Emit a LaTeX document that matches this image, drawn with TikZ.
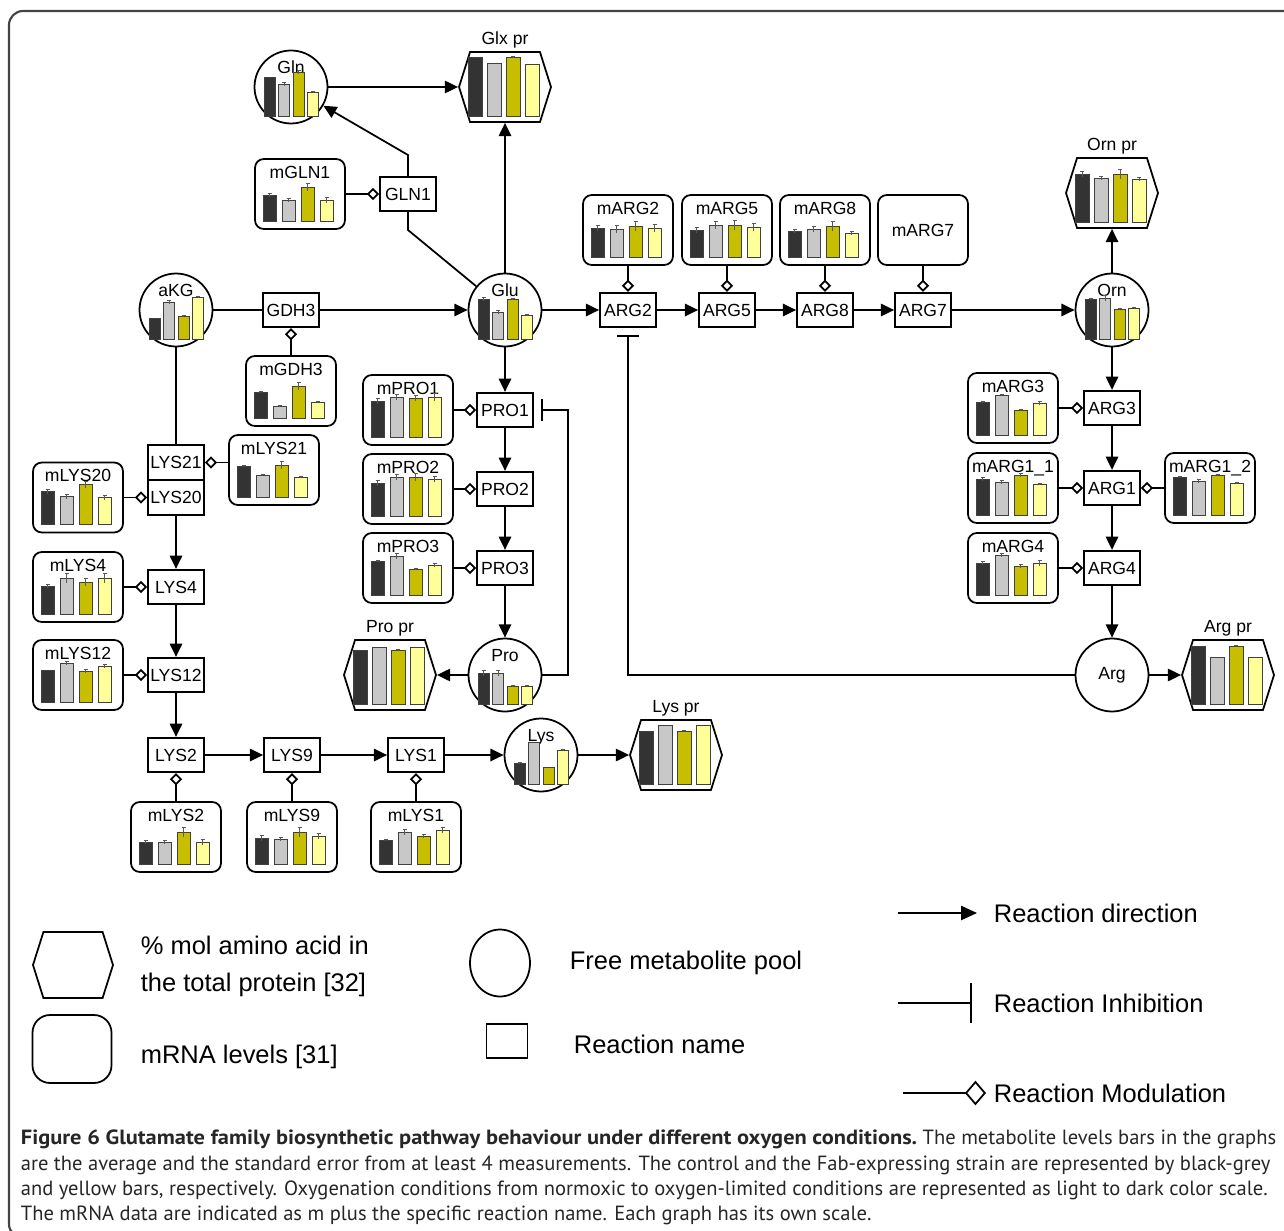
\documentclass[tikz,border=0pt]{standalone}
\usepackage{fontspec}
\setmainfont{Liberation Sans}
\newfontfamily\capfont{PT Sans}
\usetikzlibrary{arrows.meta,shapes.geometric,shapes.symbols}

\definecolor{bar1}{HTML}{333333}
\definecolor{bar2}{HTML}{C8C8C8}
\definecolor{bar3}{HTML}{C8BE00}
\definecolor{bar4}{HTML}{FFFF99}
\definecolor{framegray}{HTML}{444444}

% bar graph inside a node: node, left offset, baseline offset, bar width, pitch, {height/error,...}
\newcommand{\bargraph}[6]{%
  \begin{scope}[shift={(#1)}]
    \foreach \h/\e [count=\i] in {#6}{
      \pgfmathsetmacro{\xl}{#2+(\i-1)*#5}
      \pgfmathsetmacro{\xm}{\xl+#4/2}
      \draw[barline, fill=bar\i] (\xl,#3) rectangle ++(#4,-\h);
      \ifnum\e>0
        \draw[errline] (\xm,{#3-\h-\e}) -- (\xm,{#3-\h+\e})
          (\xm-2,{#3-\h-\e}) -- (\xm+2,{#3-\h-\e});
      \fi
    }
  \end{scope}}
\newcommand{\mbars}[2]{\bargraph{#1}{-37}{27}{13}{19}{#2}}
\newcommand{\cbars}[2]{\bargraph{#1}{-27}{29}{11}{14.5}{#2}}
\newcommand{\hbars}[2]{\bargraph{#1}{-37}{29}{14}{19}{#2}}

\begin{document}
\begin{tikzpicture}[x=0.02cm, y=-0.02cm, line width=1pt,
  reaction/.style={draw, fill=white, minimum width=1.12cm, minimum height=0.69cm, inner sep=1pt, font=\fontsize{10}{12}\selectfont},
  mrna/.style={draw, fill=white, rounded corners=5pt, minimum width=1.8cm, minimum height=1.4cm, font=\fontsize{10}{12}\selectfont},
  met/.style={circle, draw, fill=white, minimum size=1.46cm, inner sep=0pt, font=\fontsize{10}{12}\selectfont},
  prot/.style={signal, signal to=east and west, signal pointer angle=145, draw, fill=white, minimum width=1.84cm, minimum height=1.4cm, inner sep=0pt},
  toplabel/.style={label={[anchor=north, yshift=-3pt, inner sep=1pt, font=\fontsize{10}{12}\selectfont]north:#1}},
  metlabel/.style={label={[anchor=north, yshift=-5pt, inner sep=1pt, font=\fontsize{10}{12}\selectfont]north:#1}},
  prlabel/.style={label={[inner sep=1pt, font=\fontsize{10}{12}\selectfont]above:#1}},
  lgtext/.style={font=\fontsize{14.5}{21}\selectfont, inner sep=0pt},
  flow/.style={-{Triangle[length=7.5pt,width=7pt]}},
  modul/.style={-{Diamond[open,length=7pt,width=7pt]}},
  inhib/.style={-{Bar[width=12pt]}, shorten >=4pt},
  barline/.style={line width=0.5pt, draw=black!75},
  errline/.style={line width=0.5pt, draw=black!65},
]
\useasboundingbox (0,0) rectangle (1284,1230);
\draw[framegray, line width=1.2pt, rounded corners=8pt] (1300,11) -- (9,11) -- (9,1238) -- (1300,1238);

% metabolite pools
\node[met, metlabel=Gln] (gln) at (291,87) {};
\node[met, metlabel=Glu] (glu) at (505,310) {};
\node[met, metlabel=aKG] (akg) at (176,310) {};
\node[met, metlabel=Orn] (orn) at (1112,310) {};
\node[met, metlabel=Pro] (pro) at (505,675) {};
\node[met, metlabel=Lys] (lys) at (541,755) {};
\node[met] (arg) at (1112,675) {Arg};

% amino acid in protein
\node[prot, prlabel={Glx pr}] (glxpr) at (505,87) {};
\node[prot, prlabel={Orn pr}] (ornpr) at (1112,193) {};
\node[prot, prlabel={Arg pr}] (argpr) at (1228,675) {};
\node[prot, prlabel={Pro pr}] (propr) at (390,675) {};
\node[prot, prlabel={Lys pr}] (lyspr) at (676,755) {};

% reactions
\node[reaction] (gln1) at (408,194) {GLN1};
\node[reaction] (gdh3) at (291,310) {GDH3};
\node[reaction] (arg2) at (628,310) {ARG2};
\node[reaction] (arg5) at (727,310) {ARG5};
\node[reaction] (arg8) at (825,310) {ARG8};
\node[reaction] (arg7) at (923,310) {ARG7};
\node[reaction] (pro1) at (505,410) {PRO1};
\node[reaction] (pro2) at (505,489) {PRO2};
\node[reaction] (pro3) at (505,568) {PRO3};
\node[reaction] (arg3) at (1112,408) {ARG3};
\node[reaction] (arg1) at (1112,488) {ARG1};
\node[reaction] (arg4) at (1112,568) {ARG4};
\node[reaction] (lys21) at (176,462.5) {LYS21};
\node[reaction] (lys20) at (176,497.5) {LYS20};
\node[reaction] (lys4) at (176,587) {LYS4};
\node[reaction] (lys12) at (176,675) {LYS12};
\node[reaction] (lys2) at (176,755) {LYS2};
\node[reaction] (lys9) at (292,755) {LYS9};
\node[reaction] (lys1) at (416,755) {LYS1};

% mRNA levels
\node[mrna, toplabel=mGLN1] (mgln1) at (300,194) {};
\node[mrna, toplabel=mGDH3] (mgdh3) at (291,391) {};
\node[mrna, toplabel=mPRO1] (mpro1) at (408,410) {};
\node[mrna, toplabel=mPRO2] (mpro2) at (408,489) {};
\node[mrna, toplabel=mPRO3] (mpro3) at (408,568) {};
\node[mrna, toplabel=mLYS21] (mlys21) at (274,470) {};
\node[mrna, toplabel=mLYS20] (mlys20) at (78,497.5) {};
\node[mrna, toplabel=mLYS4] (mlys4) at (78,587) {};
\node[mrna, toplabel=mLYS12] (mlys12) at (78,675) {};
\node[mrna, toplabel=mLYS2] (mlys2) at (176,837) {};
\node[mrna, toplabel=mLYS9] (mlys9) at (292,837) {};
\node[mrna, toplabel=mLYS1] (mlys1) at (416,837) {};
\node[mrna, toplabel=mARG2] (marg2) at (628,230) {};
\node[mrna, toplabel=mARG5] (marg5) at (727,230) {};
\node[mrna, toplabel=mARG8] (marg8) at (825,230) {};
\node[mrna] (marg7) at (923,230) {mARG7};
\node[mrna, toplabel=mARG3] (marg3) at (1013,408) {};
\node[mrna, toplabel=mARG1\_1] (marg11) at (1013,488) {};
\node[mrna, toplabel=mARG1\_2] (marg12) at (1210,488) {};
\node[mrna, toplabel=mARG4] (marg4) at (1013,568) {};

% bars
\cbars{gln}{39/0,32/2,44/2,24/1}
\cbars{glu}{40/2,27/2,40/1,24/1}
\cbars{akg}{21/0,37/2,23/1,42/1}
\cbars{orn}{40/1,41/3,30/1,31/1}
\cbars{pro}{31/3,31/3,18/1,18/1}
\cbars{lys}{21/1,42/0,17/0,34/1}
\hbars{glxpr}{59/0,53/0,59/1,52/0}
\hbars{ornpr}{48/3,44/2,48/5,43/2}
\hbars{argpr}{58/0,47/0,58/1,47/0}
\hbars{propr}{54/0,57/0,54/1,57/0}
\hbars{lyspr}{53/0,59/0,53/1,59/0}
\mbars{mgln1}{26/2,21/2,34/4,21/3}
\mbars{mgdh3}{26/1,12/1,32/4,16/1}
\mbars{mpro1}{36/3,40/3,39/3,40/4}
\mbars{mpro2}{33/3,39/3,39/4,37/3}
\mbars{mpro3}{34/1,39/3,26/1,30/2}
\mbars{mlys21}{31/1,22/1,32/4,20/1}
\mbars{mlys20}{33/2,28/2,40/3,27/2}
\mbars{mlys4}{28/2,36/5,32/4,36/5}
\mbars{mlys12}{32/0,39/2,31/2,36/2}
\mbars{mlys2}{22/2,22/2,32/5,22/3}
\mbars{mlys9}{26/3,25/2,32/5,28/3}
\mbars{mlys1}{24/1,32/3,28/2,34/3}
\mbars{marg2}{29/3,28/4,31/5,29/4}
\mbars{marg5}{27/3,32/4,32/5,30/4}
\mbars{marg8}{26/2,28/3,31/5,24/2}
\mbars{marg3}{33/1,40/1,25/1,32/2}
\mbars{marg11}{36/2,33/2,40/2,31/1}
\mbars{marg12}{38/1,34/2,40/1,32/1}
\mbars{marg4}{32/2,40/2,29/2,32/3}

% reaction direction
\path[flow] (gln) edge (glxpr)
  (glu) edge (glxpr) edge (arg2) edge (pro1)
  (gdh3) edge (glu)
  (arg2) edge (arg5) (arg5) edge (arg8) (arg8) edge (arg7) (arg7) edge (orn)
  (orn) edge (ornpr) edge (arg3)
  (arg3) edge (arg1) (arg1) edge (arg4) (arg4) edge (arg)
  (arg) edge (argpr)
  (pro1) edge (pro2) (pro2) edge (pro3) (pro3) edge (pro) (pro) edge (propr)
  (lys20) edge (lys4) (lys4) edge (lys12) (lys12) edge (lys2)
  (lys2) edge (lys9) (lys9) edge (lys1) (lys1) edge (lys) (lys) edge (lyspr);
\path[draw] (akg) edge (gdh3) (akg) edge (lys21);
\coordinate (glnlow) at (408,230);
\coordinate (glnup) at (408,155);
\draw (glu) -- (glnlow) -- (gln1);
\draw[flow] (gln1) -- (glnup) -- (gln);

% modulation
\path[modul] (mgln1) edge (gln1) (mgdh3) edge (gdh3)
  (mpro1) edge (pro1) (mpro2) edge (pro2) (mpro3) edge (pro3)
  (mlys20) edge (lys20) (mlys4) edge (lys4) (mlys12) edge (lys12)
  (mlys2) edge (lys2) (mlys9) edge (lys9) (mlys1) edge (lys1)
  (marg2) edge (arg2) (marg5) edge (arg5) (marg8) edge (arg8) (marg7) edge (arg7)
  (marg3) edge (arg3) (marg11) edge (arg1) (marg12) edge (arg1) (marg4) edge (arg4);
\draw[modul] (mlys21.west |- lys21.east) -- (lys21.east);

% inhibition
\coordinate (proturn) at (568,675);
\draw[inhib] (pro) -- (proturn) |- (pro1);
\draw[inhib] (arg) -| (arg2);

% legend
\node[prot, minimum width=1.6cm, minimum height=1.32cm] (lghex) at (73,965) {};
\node[lgtext, anchor=west, align=left] (lghext) at (140,966) {\% mol amino acid in\\the total protein [32]};
\node[draw, rounded corners=10pt, minimum width=1.58cm, minimum height=1.36cm] (lgm) at (72,1049) {};
\node[lgtext, anchor=west] (lgmt) at (140,1057) {mRNA levels [31]};
\node[ellipse, draw, minimum width=1.2cm, minimum height=1.34cm] (lgc) at (500,963) {};
\node[lgtext, anchor=west] (lgct) at (569,963) {Free metabolite pool};
\node[draw, minimum width=0.82cm, minimum height=0.68cm] (lgr) at (507,1041) {};
\node[lgtext, anchor=west] (lgrt) at (573,1044) {Reaction name};
\coordinate (lgd1) at (898,913);
\coordinate (lgd2) at (977,913);
\draw[-{Triangle[length=9pt,width=8pt]}] (lgd1) -- (lgd2);
\node[lgtext, anchor=west] (lgdt) at (993,913) {Reaction direction};
\coordinate (lgi1) at (898,1003);
\coordinate (lgi2) at (972,1003);
\draw[-{Bar[width=23pt]}] (lgi1) -- (lgi2);
\node[lgtext, anchor=west] (lgit) at (993,1003) {Reaction Inhibition};
\coordinate (lgo1) at (903,1093);
\coordinate (lgo2) at (986,1093);
\draw[-{Diamond[open,length=12pt,width=14pt]}] (lgo1) -- (lgo2);
\node[lgtext, anchor=west] (lgot) at (993,1093) {Reaction Modulation};

% caption
\node[anchor=north west, align=left, inner sep=0pt, text=black!85,
  font=\capfont\fontsize{11.7}{14.5}\selectfont] (caption) at (20,1129)
  {\scalebox{1.09}[1]{\textbf{Figure 6 Glutamate family biosynthetic pathway behaviour under different oxygen conditions.}} The metabolite levels bars in the graphs\\
   are the average and the standard error from at least 4 measurements. The control and the Fab-expressing strain are represented by black-grey\\
   and yellow bars, respectively. Oxygenation conditions from normoxic to oxygen-limited conditions are represented as light to dark color scale.\\
   The mRNA data are indicated as m plus the specific reaction name. Each graph has its own scale.};
\end{tikzpicture}
\end{document}
